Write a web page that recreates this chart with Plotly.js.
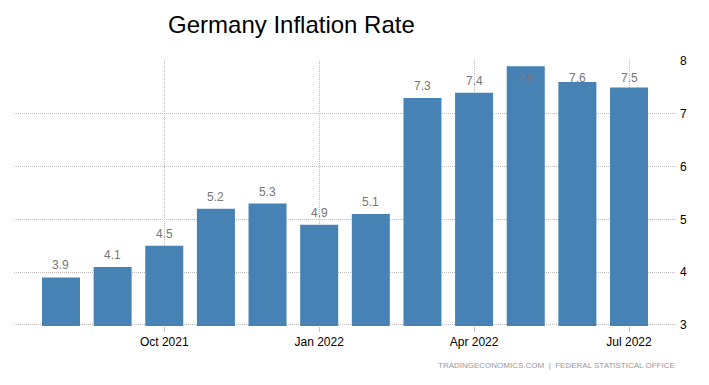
<!DOCTYPE html>
<html>
<head>
<meta charset="utf-8">
<script src="https://cdn.plot.ly/plotly-3.0.1.min.js"></script>
<style>html,body{margin:0;padding:0;background:#fff;}#chart{width:709px;height:385px;}</style>
</head>
<body>
<div id="chart"></div>
<script>
const months = ["Aug 2021","Sep 2021","Oct 2021","Nov 2021","Dec 2021","Jan 2022","Feb 2022","Mar 2022","Apr 2022","May 2022","Jun 2022","Jul 2022"];
const inflation = [3.9, 4.1, 4.5, 5.2, 5.3, 4.9, 5.1, 7.3, 7.4, 7.9, 7.6, 7.5];
const tickMonths = ["Oct 2021","Jan 2022","Apr 2022","Jul 2022"];
const yTicks = [3, 4, 5, 6, 7, 8];

const labelCap = 7.46;
const annotations = months.map((m, i) => ({
  x: m, y: Math.min(inflation[i], labelCap), xref: 'x', yref: 'y',
  text: inflation[i].toFixed(1), showarrow: false, yanchor: 'bottom', yshift: 3,
  font: {family: 'Liberation Sans, Arial, sans-serif', size: 12, color: '#777'}
}));
annotations.push({
  xref: 'paper', yref: 'paper', x: 1.002, y: -0.15, xanchor: 'right', yanchor: 'middle',
  text: 'TRADINGECONOMICS.COM  |  FEDERAL STATISTICAL OFFICE', showarrow: false,
  font: {family: 'Liberation Sans, Arial, sans-serif', size: 8, color: '#999'}
});

const trace = {
  type: 'bar', x: months, y: inflation,
  marker: {color: '#4682B4', line: {width: 0}},
  hoverinfo: 'x+y'
};

const layout = {
  width: 709, height: 385,
  margin: {l: 14, r: 33, t: 61, b: 59},
  paper_bgcolor: '#fff', plot_bgcolor: '#fff',
  showlegend: false,
  bargap: 0.264,
  title: {
    text: 'Germany Inflation Rate', xref: 'container', yref: 'container',
    x: 0.237, xanchor: 'left', y: 0.937, yanchor: 'middle',
    font: {family: 'Liberation Sans, Arial, sans-serif', size: 24, color: '#000'}
  },
  xaxis: {
    type: 'category', categoryorder: 'array', categoryarray: months,
    range: [-0.91, 11.91],
    tickmode: 'array', tickvals: tickMonths, ticktext: tickMonths,
    showgrid: true, gridcolor: '#bdbdbd', griddash: '1px,1px', gridwidth: 1,
    ticks: 'outside', ticklen: 5, tickcolor: '#c8c8c8',
    showline: false, zeroline: false,
    tickfont: {family: 'Liberation Sans, Arial, sans-serif', size: 12, color: '#000'}
  },
  yaxis: {
    side: 'right', range: [2.98, 8], tickmode: 'array', tickvals: yTicks,
    showgrid: true, gridcolor: '#bdbdbd', griddash: '1px,1px', gridwidth: 1,
    showline: false, zeroline: false, ticks: '', ticklabelstandoff: 3,
    tickfont: {family: 'Liberation Sans, Arial, sans-serif', size: 12, color: '#000'}
  },
  annotations: annotations
};

Plotly.newPlot('chart', [trace], layout, {displayModeBar: false, staticPlot: true});
</script>
</body>
</html>
